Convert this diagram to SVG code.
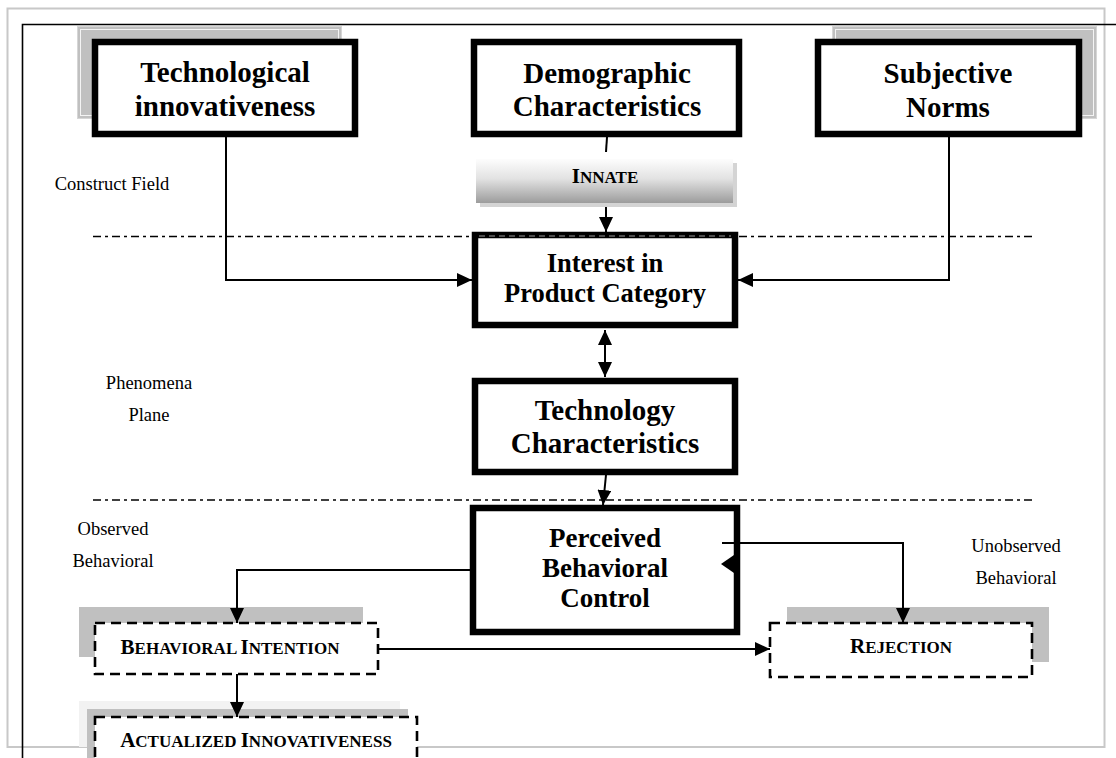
<svg xmlns="http://www.w3.org/2000/svg" width="1116" height="758" viewBox="0 0 1116 758">
  <defs>
    <style>
      .frame { fill: none; stroke: #c8c8c8; stroke-width: 2; }
      .rule { fill: none; stroke: #000; stroke-width: 1.6; }
      .thick { fill: #fff; stroke: #000; stroke-width: 6.5; }
      .dashed { fill: #fff; stroke: #000; stroke-width: 2.6; stroke-dasharray: 10 6; }
      .shadow { fill: #c0c0c0; stroke: #d6d6d6; stroke-width: 1; }
      .shadow-in { fill: none; stroke: #f4f4f4; stroke-width: 1; }
      .divider { fill: none; stroke: #000; stroke-width: 1.5; stroke-dasharray: 8 4 3 4; }
      .conn { fill: none; stroke: #000; stroke-width: 2; }
      .title { font-family: "Liberation Serif", "Times New Roman", serif; font-weight: bold; fill: #000; text-anchor: middle; }
      .label { font-family: "Liberation Serif", "Times New Roman", serif; font-size: 18.5px; fill: #000; text-anchor: middle; }
      .sc { font-family: "Liberation Serif", "Times New Roman", serif; font-weight: bold; fill: #000; text-anchor: middle; font-size: 21px; }
      .sc .s { font-size: 17px; }
    </style>
    <linearGradient id="innateFill" x1="0" y1="0" x2="0" y2="1">
      <stop offset="0" stop-color="#fdfdfd"/>
      <stop offset="0.45" stop-color="#e2e2e2"/>
      <stop offset="1" stop-color="#9c9c9c"/>
    </linearGradient>
    <marker id="ah" viewBox="0 0 15 14" refX="15" refY="7" markerWidth="15" markerHeight="14" markerUnits="userSpaceOnUse" orient="auto-start-reverse">
      <path d="M0,0 L15,7 L0,14 z" fill="#000"/>
    </marker>
  </defs>

  <!-- page frame -->
  <rect class="frame" x="7.5" y="8.5" width="1097" height="738.5"/>
  <path class="rule" d="M22.5,758 V24.5 H1116"/>

  <!-- field dividers -->
  <path class="divider" d="M93,236.5 H1035"/>
  <path class="divider" d="M93,500 H1035"/>

  <!-- region labels -->
  <g id="labels">
    <text class="label" x="112" y="190">Construct Field</text>
    <text class="label" x="149" y="389">Phenomena</text>
    <text class="label" x="149" y="421">Plane</text>
    <text class="label" x="113" y="535">Observed</text>
    <text class="label" x="113" y="567">Behavioral</text>
    <text class="label" x="1016" y="552">Unobserved</text>
    <text class="label" x="1016" y="584">Behavioral</text>
  </g>

  <g id="tech-innovativeness">
    <rect class="shadow" x="77.5" y="26.5" width="264" height="92"/>
    <rect class="shadow-in" x="80.5" y="29.5" width="258" height="86"/>
    <rect class="thick" x="95" y="42" width="260" height="92"/>
    <text class="title" font-size="29" x="225" y="82">Technological</text>
    <text class="title" font-size="29" x="225" y="116">innovativeness</text>
  </g>

  <g id="demographic">
    <rect class="thick" x="474" y="42" width="265" height="92"/>
    <text class="title" font-size="29" x="607" y="83">Demographic</text>
    <text class="title" font-size="29" x="607" y="116">Characteristics</text>
  </g>

  <g id="subjective-norms">
    <rect class="shadow" x="832.5" y="26.5" width="264" height="92"/>
    <rect class="shadow-in" x="835.5" y="29.5" width="258" height="86"/>
    <rect class="thick" x="818" y="42" width="261" height="92"/>
    <text class="title" font-size="29" x="948" y="83">Subjective</text>
    <text class="title" font-size="29" x="948" y="117">Norms</text>
  </g>

  <g id="innate">
    <rect x="480" y="163" width="257" height="44" fill="#d4d4d4"/>
    <rect x="476" y="159" width="257" height="44" fill="url(#innateFill)"/>
    <text class="sc" x="605" y="183">I<tspan class="s">NNATE</tspan></text>
  </g>

  <g id="interest">
    <rect class="thick" x="475" y="235" width="260" height="90"/>
    <path d="M479,236 H731" stroke="#9a9a9a" stroke-width="1" stroke-dasharray="6 4" fill="none"/>
    <text class="title" font-size="26.5" x="605" y="272">Interest in</text>
    <text class="title" font-size="26.5" x="605" y="302">Product Category</text>
  </g>

  <g id="technology-characteristics">
    <rect class="thick" x="475" y="381" width="260" height="91"/>
    <text class="title" font-size="29" x="605" y="420">Technology</text>
    <text class="title" font-size="29" x="605" y="453">Characteristics</text>
  </g>

  <g id="perceived-control">
    <rect class="thick" x="473" y="508" width="264" height="124"/>
    <polygon points="721,564 734,555 734,573" fill="#000"/>
    <text class="title" font-size="27" x="605" y="547">Perceived</text>
    <text class="title" font-size="27" x="605" y="577">Behavioral</text>
    <text class="title" font-size="27" x="605" y="607">Control</text>
  </g>

  <g id="behavioral-intention">
    <rect x="79" y="607" width="284" height="50" fill="#c0c0c0"/>
    <rect class="dashed" x="95" y="623" width="283" height="51"/>
    <text class="sc" x="230" y="654">B<tspan class="s">EHAVIORAL </tspan>I<tspan class="s">NTENTION</tspan></text>
  </g>

  <g id="rejection">
    <rect x="787" y="607" width="262" height="55" fill="#c0c0c0"/>
    <rect class="dashed" x="770" y="623" width="262" height="54"/>
    <text class="sc" x="901" y="653">R<tspan class="s">EJECTION</tspan></text>
  </g>

  <g id="actualized-innovativeness">
    <rect x="79" y="701" width="321" height="46" fill="#f2f2f2"/>
    <rect x="87" y="709" width="321" height="52" fill="#c0c0c0"/>
    <rect class="dashed" x="95" y="717" width="322" height="50"/>
    <text class="sc" x="256" y="747">A<tspan class="s">CTUALIZED </tspan>I<tspan class="s">NNOVATIVENESS</tspan></text>
  </g>

  <!-- connectors, drawn on top of the boxes -->
  <g id="connectors">
    <path class="conn" d="M226,137 V280 H472" marker-end="url(#ah)"/>
    <path class="conn" d="M949,137 V280 H738" marker-end="url(#ah)"/>
    <path class="conn" d="M607,137 L606,152"/>
    <path class="conn" d="M606,207 V232" marker-end="url(#ah)"/>
    <path class="conn" d="M605,330 V377" marker-start="url(#ah)" marker-end="url(#ah)"/>
    <path class="conn" d="M606,475 L603,505" marker-end="url(#ah)"/>
    <path class="conn" d="M470,570 H237 V623" marker-end="url(#ah)"/>
    <path class="conn" d="M722,543 H903 V623" marker-end="url(#ah)"/>
    <path class="conn" d="M378,649 H770" marker-end="url(#ah)"/>
    <path class="conn" d="M237,674 V717" marker-end="url(#ah)"/>
  </g>
</svg>
